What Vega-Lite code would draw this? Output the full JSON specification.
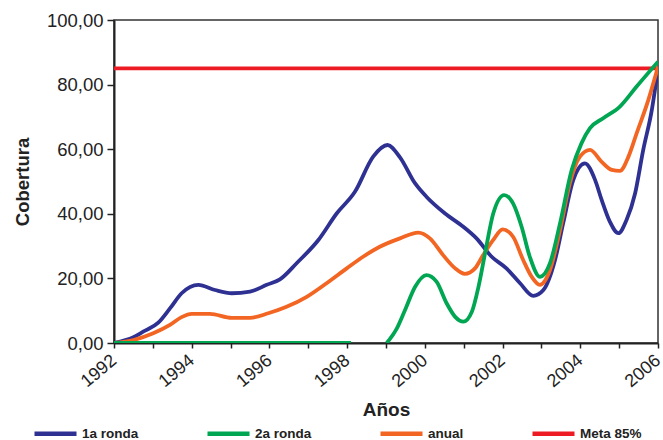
{
  "$schema": "https://vega.github.io/schema/vega-lite/v6.json",
  "autosize": "none",
  "width": 544,
  "height": 323,
  "padding": {"left": 114, "top": 20, "right": 5, "bottom": 97},
  "config": {
    "font": "Liberation Sans",
    "view": {"stroke": "#333333", "strokeWidth": 1.5},
    "axis": {"grid": false, "domainColor": "#222222", "domainWidth": 2, "tickColor": "#222222", "tickWidth": 1.5, "labelColor": "#222222", "titleColor": "#222222"}
  },
  "data": {
    "values": [
      {"s": "Meta 85%", "seg": "r", "x": 1992, "y": 85},
      {"s": "Meta 85%", "seg": "r", "x": 2006, "y": 85},
      {"s": "1a ronda", "seg": "b", "x": 1992.0, "y": 0},
      {"s": "1a ronda", "seg": "b", "x": 1992.5, "y": 1.8},
      {"s": "1a ronda", "seg": "b", "x": 1992.75, "y": 3.5},
      {"s": "1a ronda", "seg": "b", "x": 1993.14, "y": 6.3},
      {"s": "1a ronda", "seg": "b", "x": 1993.44, "y": 10.7},
      {"s": "1a ronda", "seg": "b", "x": 1993.74, "y": 15.4},
      {"s": "1a ronda", "seg": "b", "x": 1994.17, "y": 18},
      {"s": "1a ronda", "seg": "b", "x": 1994.6, "y": 16.4},
      {"s": "1a ronda", "seg": "b", "x": 1995.03, "y": 15.4},
      {"s": "1a ronda", "seg": "b", "x": 1995.5, "y": 15.9},
      {"s": "1a ronda", "seg": "b", "x": 1995.93, "y": 18},
      {"s": "1a ronda", "seg": "b", "x": 1996.27, "y": 19.7},
      {"s": "1a ronda", "seg": "b", "x": 1996.7, "y": 24.7},
      {"s": "1a ronda", "seg": "b", "x": 1997.26, "y": 31.9},
      {"s": "1a ronda", "seg": "b", "x": 1997.73, "y": 40.1},
      {"s": "1a ronda", "seg": "b", "x": 1998.2, "y": 46.8},
      {"s": "1a ronda", "seg": "b", "x": 1998.67, "y": 57.7},
      {"s": "1a ronda", "seg": "b", "x": 1999.04, "y": 61.3},
      {"s": "1a ronda", "seg": "b", "x": 1999.36, "y": 57.5},
      {"s": "1a ronda", "seg": "b", "x": 1999.75, "y": 49.4},
      {"s": "1a ronda", "seg": "b", "x": 2000.04, "y": 45.3},
      {"s": "1a ronda", "seg": "b", "x": 2000.52, "y": 40.1},
      {"s": "1a ronda", "seg": "b", "x": 2000.99, "y": 36},
      {"s": "1a ronda", "seg": "b", "x": 2001.33, "y": 32.4},
      {"s": "1a ronda", "seg": "b", "x": 2001.72, "y": 26.7},
      {"s": "1a ronda", "seg": "b", "x": 2002.1, "y": 23.1},
      {"s": "1a ronda", "seg": "b", "x": 2002.45, "y": 18.5},
      {"s": "1a ronda", "seg": "b", "x": 2002.79, "y": 14.6},
      {"s": "1a ronda", "seg": "b", "x": 2003.05, "y": 16.4},
      {"s": "1a ronda", "seg": "b", "x": 2003.35, "y": 25.7},
      {"s": "1a ronda", "seg": "b", "x": 2003.56, "y": 37.1},
      {"s": "1a ronda", "seg": "b", "x": 2003.82, "y": 50.5},
      {"s": "1a ronda", "seg": "b", "x": 2004.12, "y": 55.6},
      {"s": "1a ronda", "seg": "b", "x": 2004.38, "y": 50.5},
      {"s": "1a ronda", "seg": "b", "x": 2004.55, "y": 44.3},
      {"s": "1a ronda", "seg": "b", "x": 2004.76, "y": 37.6},
      {"s": "1a ronda", "seg": "b", "x": 2004.98, "y": 34},
      {"s": "1a ronda", "seg": "b", "x": 2005.19, "y": 38.1},
      {"s": "1a ronda", "seg": "b", "x": 2005.41, "y": 46.3},
      {"s": "1a ronda", "seg": "b", "x": 2005.62, "y": 59.8},
      {"s": "1a ronda", "seg": "b", "x": 2005.84, "y": 72.1},
      {"s": "1a ronda", "seg": "b", "x": 2006, "y": 85},
      {"s": "anual", "seg": "o", "x": 1992, "y": 0},
      {"s": "anual", "seg": "o", "x": 1992.5, "y": 0.9},
      {"s": "anual", "seg": "o", "x": 1993.01, "y": 3},
      {"s": "anual", "seg": "o", "x": 1993.44, "y": 5.6},
      {"s": "anual", "seg": "o", "x": 1993.74, "y": 8},
      {"s": "anual", "seg": "o", "x": 1994.0, "y": 9},
      {"s": "anual", "seg": "o", "x": 1994.47, "y": 9},
      {"s": "anual", "seg": "o", "x": 1995.03, "y": 7.8},
      {"s": "anual", "seg": "o", "x": 1995.5, "y": 7.8},
      {"s": "anual", "seg": "o", "x": 1995.97, "y": 9.2},
      {"s": "anual", "seg": "o", "x": 1996.44, "y": 11.2},
      {"s": "anual", "seg": "o", "x": 1996.96, "y": 14.3},
      {"s": "anual", "seg": "o", "x": 1997.47, "y": 18.5},
      {"s": "anual", "seg": "o", "x": 1997.99, "y": 23.1},
      {"s": "anual", "seg": "o", "x": 1998.41, "y": 26.7},
      {"s": "anual", "seg": "o", "x": 1998.84, "y": 29.8},
      {"s": "anual", "seg": "o", "x": 1999.36, "y": 32.4},
      {"s": "anual", "seg": "o", "x": 1999.83, "y": 34.2},
      {"s": "anual", "seg": "o", "x": 2000.13, "y": 32.4},
      {"s": "anual", "seg": "o", "x": 2000.47, "y": 27.2},
      {"s": "anual", "seg": "o", "x": 2000.78, "y": 23.1},
      {"s": "anual", "seg": "o", "x": 2001.03, "y": 21.4},
      {"s": "anual", "seg": "o", "x": 2001.29, "y": 23.1},
      {"s": "anual", "seg": "o", "x": 2001.5, "y": 27.2},
      {"s": "anual", "seg": "o", "x": 2001.76, "y": 31.9},
      {"s": "anual", "seg": "o", "x": 2002.0, "y": 35.2},
      {"s": "anual", "seg": "o", "x": 2002.27, "y": 32.9},
      {"s": "anual", "seg": "o", "x": 2002.53, "y": 25.7},
      {"s": "anual", "seg": "o", "x": 2002.75, "y": 20.5},
      {"s": "anual", "seg": "o", "x": 2002.96, "y": 18},
      {"s": "anual", "seg": "o", "x": 2003.22, "y": 22.6},
      {"s": "anual", "seg": "o", "x": 2003.48, "y": 35},
      {"s": "anual", "seg": "o", "x": 2003.73, "y": 49.4},
      {"s": "anual", "seg": "o", "x": 2003.99, "y": 57.7},
      {"s": "anual", "seg": "o", "x": 2004.25, "y": 59.8},
      {"s": "anual", "seg": "o", "x": 2004.55, "y": 56.1},
      {"s": "anual", "seg": "o", "x": 2004.81, "y": 53.6},
      {"s": "anual", "seg": "o", "x": 2005.02, "y": 53.3},
      {"s": "anual", "seg": "o", "x": 2005.24, "y": 57.7},
      {"s": "anual", "seg": "o", "x": 2005.45, "y": 64.9},
      {"s": "anual", "seg": "o", "x": 2005.75, "y": 75.2},
      {"s": "anual", "seg": "o", "x": 2006, "y": 85.5},
      {"s": "2a ronda", "seg": "g1", "x": 1992, "y": 0},
      {"s": "2a ronda", "seg": "g1", "x": 1998.1, "y": 0},
      {"s": "2a ronda", "seg": "g2", "x": 1999.02, "y": 0},
      {"s": "2a ronda", "seg": "g2", "x": 1999.28, "y": 4.5},
      {"s": "2a ronda", "seg": "g2", "x": 1999.49, "y": 10.2},
      {"s": "2a ronda", "seg": "g2", "x": 1999.75, "y": 17.4},
      {"s": "2a ronda", "seg": "g2", "x": 2000.04, "y": 21},
      {"s": "2a ronda", "seg": "g2", "x": 2000.3, "y": 19},
      {"s": "2a ronda", "seg": "g2", "x": 2000.56, "y": 12.3},
      {"s": "2a ronda", "seg": "g2", "x": 2000.78, "y": 8.1},
      {"s": "2a ronda", "seg": "g2", "x": 2000.99, "y": 6.6},
      {"s": "2a ronda", "seg": "g2", "x": 2001.21, "y": 9.7},
      {"s": "2a ronda", "seg": "g2", "x": 2001.38, "y": 17.4},
      {"s": "2a ronda", "seg": "g2", "x": 2001.55, "y": 27.8},
      {"s": "2a ronda", "seg": "g2", "x": 2001.76, "y": 40.1},
      {"s": "2a ronda", "seg": "g2", "x": 2002.04, "y": 45.8},
      {"s": "2a ronda", "seg": "g2", "x": 2002.27, "y": 43.2},
      {"s": "2a ronda", "seg": "g2", "x": 2002.49, "y": 36},
      {"s": "2a ronda", "seg": "g2", "x": 2002.7, "y": 26.7},
      {"s": "2a ronda", "seg": "g2", "x": 2002.96, "y": 20.5},
      {"s": "2a ronda", "seg": "g2", "x": 2003.22, "y": 24.7},
      {"s": "2a ronda", "seg": "g2", "x": 2003.48, "y": 37.1},
      {"s": "2a ronda", "seg": "g2", "x": 2003.78, "y": 53.6},
      {"s": "2a ronda", "seg": "g2", "x": 2004.03, "y": 61.8},
      {"s": "2a ronda", "seg": "g2", "x": 2004.25, "y": 66.5},
      {"s": "2a ronda", "seg": "g2", "x": 2004.59, "y": 69.6},
      {"s": "2a ronda", "seg": "g2", "x": 2005.02, "y": 73.2},
      {"s": "2a ronda", "seg": "g2", "x": 2005.45, "y": 79.4},
      {"s": "2a ronda", "seg": "g2", "x": 2006, "y": 87.1}
    ]
  },
  "mark": {"type": "line", "interpolate": "monotone", "strokeWidth": 3.8, "clip": true},
  "encoding": {
    "x": {
      "field": "x", "type": "quantitative",
      "scale": {"domain": [1992, 2006], "nice": false, "zero": false},
      "axis": {
        "title": "Años", "titleFontSize": 19, "titleFontWeight": "bold", "titlePadding": 10,
        "values": [1992,1993,1994,1995,1996,1997,1998,1999,2000,2001,2002,2003,2004,2005,2006],
        "labelExpr": "datum.value % 2 == 0 ? format(datum.value, 'd') : ''",
        "labelAngle": -40, "labelFontSize": 18, "labelAlign": "right", "labelBaseline": "middle",
        "tickSize": 5, "labelPadding": 10, "labelOverlap": false, "labelFlush": false
      }
    },
    "y": {
      "field": "y", "type": "quantitative",
      "scale": {"domain": [0, 100], "nice": false},
      "axis": {
        "title": "Cobertura", "titleFontSize": 18.5, "titleFontWeight": "bold", "titlePadding": 14,
        "values": [0, 20, 40, 60, 80, 100],
        "labelExpr": "replace(format(datum.value, '.2f'), '.', ',')",
        "labelFontSize": 18.5, "tickSize": 7, "labelPadding": 4
      }
    },
    "color": {
      "field": "s", "type": "nominal",
      "scale": {"domain": ["1a ronda", "2a ronda", "anual", "Meta 85%"], "range": ["#2e3192", "#00a651", "#f26522", "#ed1c24"]},
      "legend": {
        "title": null, "orient": "none", "legendX": -82, "legendY": 390, "direction": "horizontal", "columns": 4,
        "columnPadding": 59, "symbolType": "stroke", "symbolSize": 1764, "symbolStrokeWidth": 4.5,
        "labelFontSize": 13.5, "labelFontWeight": "bold", "labelColor": "#222222", "labelOffset": 3
      }
    },
    "detail": {"field": "seg"}
  }
}
